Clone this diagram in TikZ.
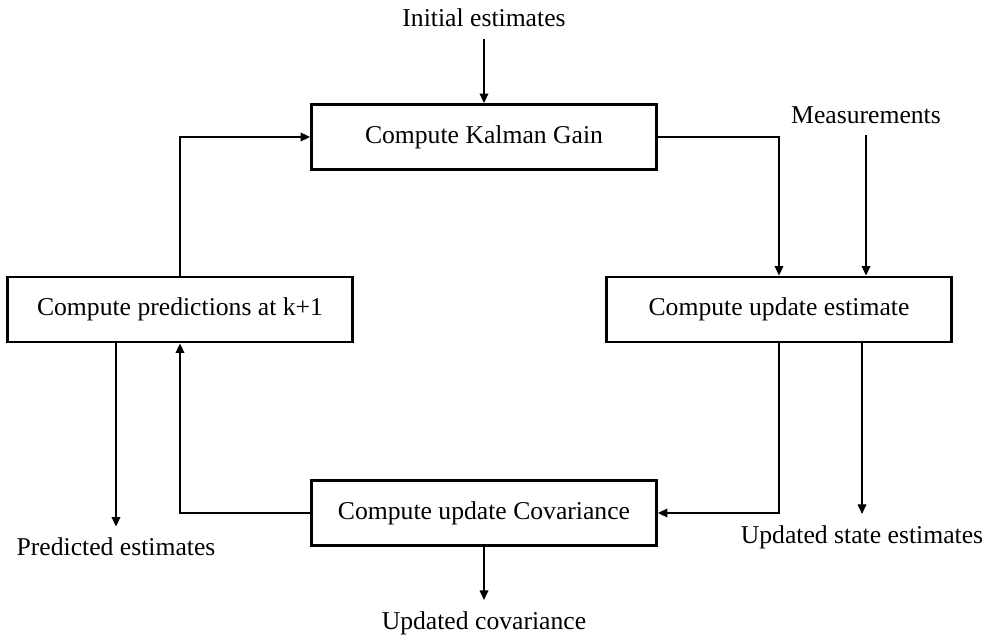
\documentclass[tikz,border=0pt]{standalone}
\usepackage{fontspec}
\setmainfont{Liberation Serif}
\usepackage{tikz}
\usetikzlibrary{arrows.meta}

\begin{document}
\begin{tikzpicture}[
    stage/.style={draw, line width=1.7pt, minimum width=6.9cm, minimum height=1.3cm,
      font=\fontsize{14.6}{17}\selectfont},
    label/.style={font=\fontsize{14.6}{17}\selectfont},
    flow/.style={line width=0.6pt, -{Triangle[length=5.4pt, width=5pt]}},
    outflow/.style={flow, shorten >=3pt}
  ]
        \useasboundingbox (0,0) rectangle (19.78,12.84);
        % the four stages of the loop
        \node[stage] (kalman) at (9.68,10.10) {Compute Kalman Gain};
        \node[stage] (predict) at (3.60,6.65) {Compute predictions at k+1};
        \node[stage] (update) at (15.58,6.65) {Compute update estimate};
        \node[stage] (cov) at (9.68,2.58) {Compute update Covariance};
        % inputs and outputs
        \node[label] (init) at (9.68,12.48) {Initial estimates};
        \node[label] (meas) at (17.32,10.54) {Measurements};
        \node[label] (pred) at (2.32,1.90) {Predicted estimates};
        \node[label] (upd) at (17.24,2.10) {Updated state estimates};
        \node[label] (covout) at (9.68,0.38) {Updated covariance};
        \draw[flow, shorten <=3pt] (init) -- (kalman);
        \draw[flow] (predict.north) |- (kalman.west);
        \draw[flow] (kalman.east) -| (update.north);
        \draw[flow, shorten <=3pt] (meas) -- (meas |- update.north);
        \draw[flow] (update.south) |- (cov.east);
        \draw[outflow] (update.south -| upd) -- (upd.north);
        \draw[flow] (cov.west) -| (predict.south);
        \draw[outflow] (predict.south -| pred) -- (pred.north);
        \draw[outflow] (cov) -- (covout);
      \end{tikzpicture}
\end{document}
